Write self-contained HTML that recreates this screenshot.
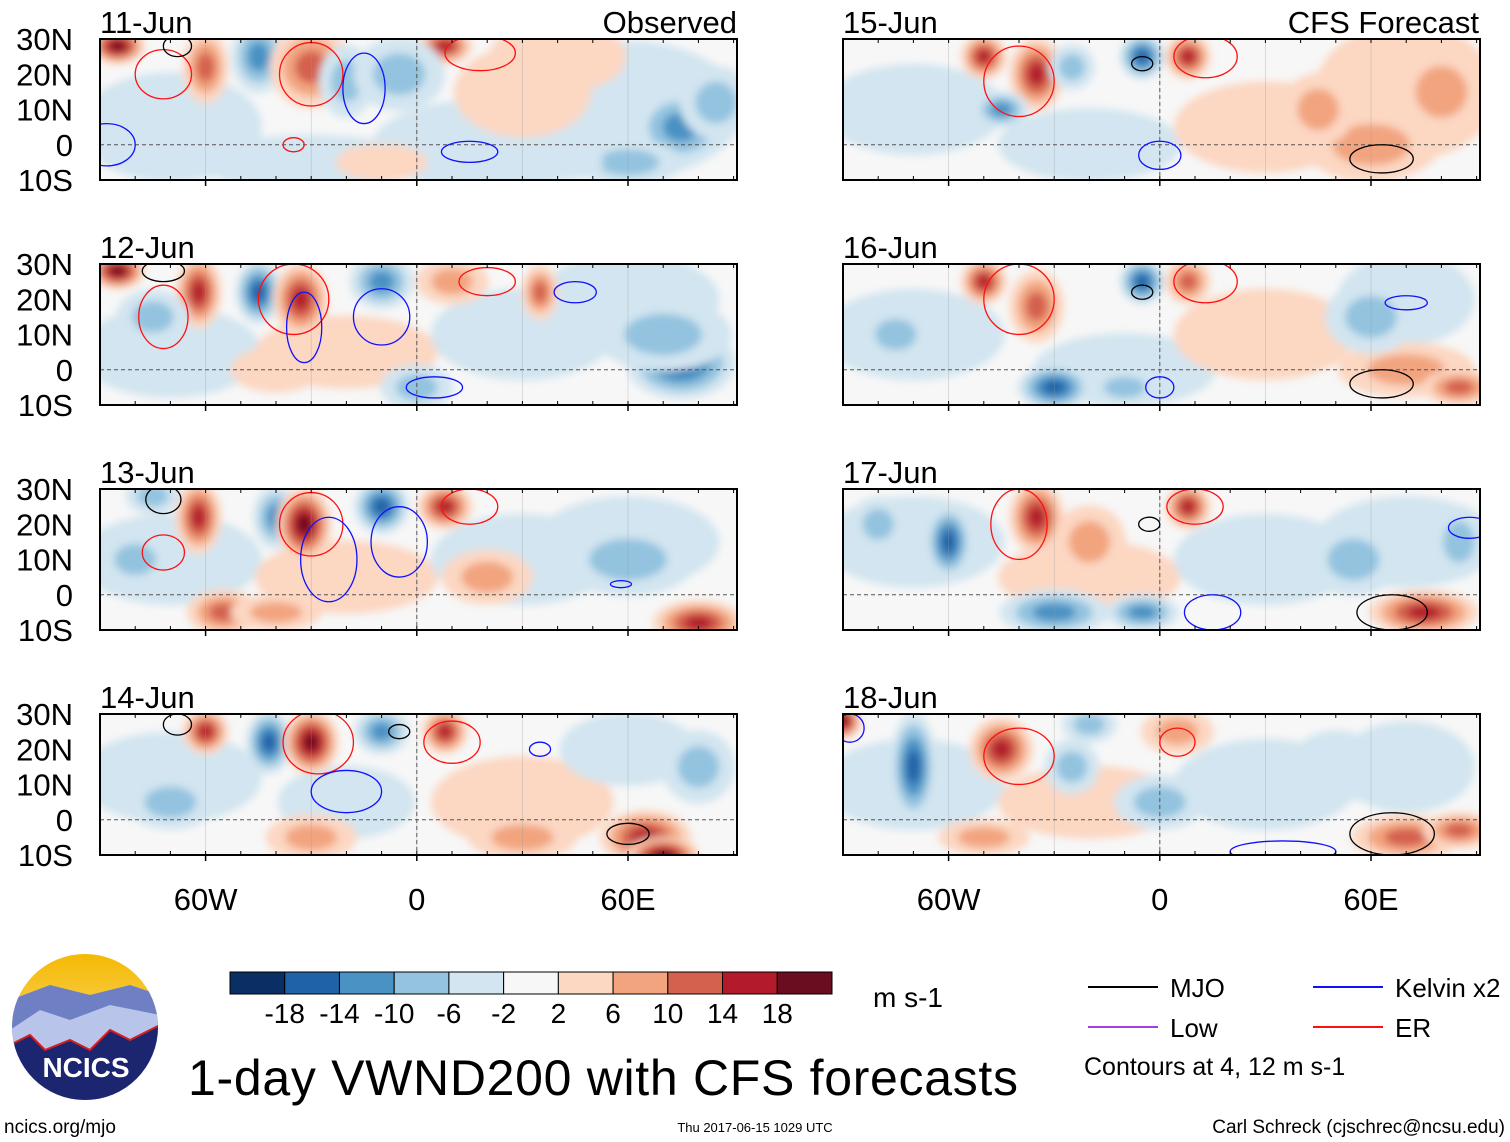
<!DOCTYPE html>
<html><head><meta charset="utf-8">
<style>
html,body{margin:0;padding:0;background:#fff;}
body{width:1510px;height:1142px;position:relative;overflow:hidden;font-family:"Liberation Sans",sans-serif;}
</style></head>
<body>
<svg id="chart" width="1510" height="1142" xmlns="http://www.w3.org/2000/svg" style="position:absolute;left:0;top:0">
<defs>
<filter id="blur" x="-50%" y="-50%" width="200%" height="200%"><feGaussianBlur stdDeviation="4"/></filter>
<linearGradient id="sky" x1="0" y1="0" x2="0" y2="1"><stop offset="0" stop-color="#f5b800"/><stop offset="0.5" stop-color="#f7d25a"/><stop offset="1" stop-color="#c9d7f0"/></linearGradient>
</defs>
</svg>
<script>
const panelDates=["11-Jun","12-Jun","13-Jun","14-Jun","15-Jun","16-Jun","17-Jun","18-Jun"];
const latTicks=["30N","20N","10N","0","10S"];
const latVals=[30,20,10,0,-10];
const lonTicks=["60W","0","60E"];
const lonVals=[-60,0,60];
const cbLabels=["-18","-14","-10","-6","-2","2","6","10","14","18"];
const cbBounds=[-18,-14,-10,-6,-2,2,6,10,14,18];
const cbColors=["#0a2f64","#2062a8","#4a92c4","#93c3df","#d2e5f0","#f7f7f7","#fcd7c2","#f2a47f","#d4604e","#b31a2c","#6a0d20"];
// blobs: [lon, lat, value, rxDeg, ryDeg]
const blobs0=[[-70,5,-4,20,12],[-30,-5,-4,25,6],[20,0,-4,25,10],[60,10,-5,25,15],[40,25,4,15,8],[-85,28,18,6,4],[-60,22,10,5,8],[-45,25,-10,6,8],[-30,22,12,9,9],[-20,18,-6,6,8],[8,28,16,6,4],[-5,20,-6,10,8],[30,15,4,15,10],[75,5,-12,10,8],[85,12,-8,8,8],[60,-5,-6,12,5],[-10,-5,4,10,4],[40,-5,-4,10,4]];
const blobs1=[[-70,5,-4,20,10],[-20,5,4,20,8],[30,10,-4,20,10],[60,20,-4,20,10],[-85,28,18,6,4],[-62,22,14,5,8],[-45,22,-14,5,7],[-33,20,16,6,8],[-10,25,-10,7,6],[10,25,8,8,5],[35,22,10,4,6],[75,2,-14,12,8],[70,10,-8,15,8],[0,-5,-6,8,5],[-40,0,4,10,5],[-75,15,-6,8,6]];
const blobs2=[[-70,10,-4,20,10],[-20,5,4,20,8],[30,10,-4,20,10],[60,15,-4,20,10],[-75,28,-6,6,4],[-62,22,16,5,8],[-40,22,-12,5,7],[-32,20,18,6,8],[-10,25,-14,6,6],[8,25,14,6,5],[-55,-5,10,8,5],[-40,-5,8,10,4],[80,-8,16,10,5],[60,10,-6,15,8],[-80,10,-6,8,6],[20,5,6,10,6]];
const blobs3=[[-70,12,-4,20,10],[-20,5,-4,15,8],[30,5,4,20,10],[60,20,-4,15,8],[-60,25,14,5,5],[-42,22,-14,5,7],[-30,22,18,6,7],[-10,25,-12,6,5],[8,25,16,5,5],[65,-5,16,10,6],[70,-10,18,8,4],[-70,5,-6,10,6],[-30,-5,6,10,5],[30,-5,6,12,5],[80,15,-6,8,8]];
const blobs4=[[-70,10,-4,20,10],[-20,0,-4,20,8],[30,5,4,20,10],[70,15,4,20,15],[-50,25,16,5,5],[-35,20,14,6,8],[-25,22,-8,5,5],[-5,25,-14,5,5],[8,25,14,5,5],[-45,10,-10,6,4],[60,0,8,15,8],[80,15,6,10,10],[45,10,6,8,8],[-75,10,-4,8,6],[-10,0,-4,10,5]];
const blobs5=[[-70,10,-4,20,10],[-10,0,-4,20,8],[30,10,4,20,10],[70,20,-4,15,10],[-50,25,16,5,5],[-35,18,10,6,8],[-5,25,-14,5,5],[8,25,12,5,5],[-30,-5,-14,8,5],[-10,-5,-8,8,4],[70,0,8,15,6],[85,-5,10,8,4],[60,15,-6,10,8],[-75,10,-6,8,6],[20,10,4,10,8]];
const blobs6=[[-70,15,-4,20,10],[-20,5,4,20,8],[30,10,-4,20,10],[70,15,-4,20,10],[-60,15,-14,5,8],[-35,22,16,6,8],[-20,15,6,8,8],[-30,-5,-12,12,5],[-5,-5,-10,8,4],[8,25,14,5,5],[75,-5,14,12,5],[55,10,-6,10,8],[85,15,-6,6,8],[-80,20,-6,6,6]];
const blobs7=[[-70,10,-4,20,10],[-20,5,4,20,8],[30,10,-4,20,10],[70,15,-4,15,10],[-90,28,18,4,4],[-70,15,-16,5,12],[-45,20,16,7,7],[-25,15,-8,6,6],[-20,27,-8,6,4],[5,25,6,8,5],[0,5,-6,10,6],[70,-5,10,12,5],[85,-3,12,8,4],[50,15,-4,10,8],[-50,-5,6,10,4]];
const allBlobs=[blobs0,blobs1,blobs2,blobs3,blobs4,blobs5,blobs6,blobs7];
// contours: [lon, lat, rxDeg, ryDeg, type]  type: 0=MJO,1=Kelvin,2=ER
const cont0=[[-72,20,8,7,2],[-30,20,9,9,2],[-15,16,6,10,1],[-68,28,4,3,0],[18,26,10,5,2],[-88,0,8,6,1],[-35,0,3,2,2],[15,-2,8,3,1]];
const cont1=[[-72,15,7,9,2],[-35,20,10,10,2],[-32,12,5,10,1],[-10,15,8,8,1],[20,25,8,4,2],[-72,28,6,3,0],[5,-5,8,3,1],[45,22,6,3,1]];
const cont2=[[-72,12,6,5,2],[-30,20,9,9,2],[-25,10,8,12,1],[-5,15,8,10,1],[15,25,8,5,2],[-72,27,5,4,0],[58,3,3,1,1]];
const cont3=[[-68,27,4,3,0],[-28,22,10,9,2],[-20,8,10,6,1],[10,22,8,6,2],[60,-4,6,3,0],[-5,25,3,2,0],[35,20,3,2,1]];
const cont4=[[-40,18,10,10,2],[13,25,9,6,2],[-5,23,3,2,0],[0,-3,6,4,1],[63,-4,9,4,0]];
const cont5=[[-40,20,10,10,2],[13,25,9,6,2],[-5,22,3,2,0],[0,-5,4,3,1],[63,-4,9,4,0],[70,19,6,2,1]];
const cont6=[[-40,20,8,10,2],[10,25,8,5,2],[-3,20,3,2,0],[15,-5,8,5,1],[66,-5,10,5,0],[88,19,6,3,1]];
const cont7=[[-40,18,10,8,2],[5,22,5,4,2],[66,-4,12,6,0],[-88,26,4,4,1],[35,-9,15,3,1]];
const allCont=[cont0,cont1,cont2,cont3,cont4,cont5,cont6,cont7];

const svg=document.getElementById('chart');
const NS="http://www.w3.org/2000/svg";
function mk(tag,attrs,parent){const e=document.createElementNS(NS,tag);for(const k in attrs)e.setAttribute(k,attrs[k]);(parent||svg).appendChild(e);return e;}
const PW=637,PH=141;
function lonX(x0,lon){return x0+(lon+90)*3.52;}
function latY(y0,lat){return y0+(30-lat)*3.525;}
function colorFor(v){let i=0;while(i<cbBounds.length&&v>cbBounds[i])i++;return cbColors[i];}
const contColors=["#000","#1010ff","#ff1010"];
const panelX=[100,843],panelY=[39,264,489,714];

for(let p=0;p<8;p++){
  const x0=panelX[p<4?0:1],y0=panelY[p%4];
  const g=mk('g',{});
  
  
  const cp=mk('clipPath',{id:'cp'+p},svg);
  mk('rect',{x:x0,y:y0,width:PW,height:PH},cp);
  const inner=mk('g',{'clip-path':'url(#cp'+p+')'},g);
  mk('rect',{x:x0,y:y0,width:PW,height:PH,fill:'#f7f7f7'},inner);
  const bg=mk('g',{filter:'url(#blur)'},inner);
  allBlobs[p].forEach(b=>{
    const cx=lonX(x0,b[0]),cy=latY(y0,b[1]);
    const steps=[];const s=Math.sign(b[2]);
    for(let v=2*s;Math.abs(v)<=Math.abs(b[2])+0.1;v+=4*s)steps.push(v);
    if(!steps.length)steps.push(b[2]);
    steps.forEach((v,i)=>{
      const f=1.3*(1-i/(steps.length+0.3));
      const e=mk('ellipse',{cx:cx,cy:cy,rx:b[3]*3.52*f,ry:b[4]*3.52*f,fill:colorFor(v+0.5*s)},bg);
      
      
    });
  });
  // faint map lines (stand-in coastlines)
  for(let lo=-60;lo<=60;lo+=30){mk('line',{x1:lonX(x0,lo),x2:lonX(x0,lo),y1:y0,y2:y0+PH,stroke:'#999','stroke-width':0.6,opacity:0.5},inner);}
  mk('line',{x1:x0,x2:x0+PW,y1:latY(y0,0),y2:latY(y0,0),stroke:'#555','stroke-dasharray':'4,3','stroke-width':1},inner);
  mk('line',{x1:lonX(x0,0),x2:lonX(x0,0),y1:y0,y2:y0+PH,stroke:'#555','stroke-dasharray':'4,3','stroke-width':1},inner);
  allCont[p].forEach(c=>{
    const e=mk('ellipse',{cx:lonX(x0,c[0]),cy:latY(y0,c[1]),rx:c[2]*3.52,ry:c[3]*3.52,fill:'none',stroke:contColors[c[4]],'stroke-width':1.3},inner);
    
    
  });
  mk('rect',{x:x0,y:y0,width:PW,height:PH,fill:'none',stroke:'#000','stroke-width':2},g);
  for(let lo=-90;lo<=90;lo+=10){const x=lonX(x0,lo);mk('line',{x1:x,x2:x,y1:y0,y2:y0+4,stroke:'#000'},g);mk('line',{x1:x,x2:x,y1:y0+PH,y2:y0+PH-4,stroke:'#000'},g);}
  lonVals.forEach(lo=>{const x=lonX(x0,lo);mk('line',{x1:x,x2:x,y1:y0+PH,y2:y0+PH+6,stroke:'#000','stroke-width':1.5},g);});
  const t=mk('text',{x:x0,y:y0-6,'font-size':31,fill:'#000'},g);t.textContent=panelDates[p];
  
  
  if(p<4){
    latTicks.forEach((l,i)=>{const tt=mk('text',{x:73,y:latY(y0,latVals[i])+11,'font-size':31,'text-anchor':'end'},g);tt.textContent=l;
      
      });
  }
}
[[737,"Observed"],[1479,"CFS Forecast"]].forEach(a=>{const t=mk('text',{x:a[0],y:33,'font-size':31,'text-anchor':'end'});t.textContent=a[1];
  
  });
[100,843].forEach(x0=>{lonTicks.forEach((l,i)=>{const t=mk('text',{x:lonX(x0,lonVals[i]),y:910,'font-size':31,'text-anchor':'middle'});t.textContent=l;
  
  });});
const cbx=230,cbw=602/11;
cbColors.forEach((c,i)=>{const r=mk('rect',{x:cbx+i*cbw,y:972,width:cbw,height:22,fill:c,stroke:'#000','stroke-width':1});
  
  });
cbLabels.forEach((l,i)=>{const t=mk('text',{x:cbx+(i+1)*cbw,y:1023,'font-size':28,'text-anchor':'middle'});t.textContent=l;
  
  });
function txt(x,y,s,str,anchor,name){const t=mk('text',{x:x,y:y,'font-size':s,'text-anchor':anchor||'start'});t.textContent=str;return t;}
txt(873,1007,28,"m s-1",'start','units-label');
const ti=txt(188,1095,50,"1-day VWND200 with CFS forecasts",'start','chart-title');ti.setAttribute('textLength','830');
txt(4,1133,19,"ncics.org/mjo",'start','source-url');
txt(755,1132,13,"Thu 2017-06-15 1029 UTC",'middle','timestamp');
txt(1505,1133,19,"Carl Schreck (cjschrec@ncsu.edu)",'end','author-credit');
const leg=[[1088,987,"#000","MJO"],[1313,987,"#1010ff","Kelvin x2"],[1088,1027,"#a040e0","Low"],[1313,1027,"#ff1010","ER"]];
leg.forEach(l=>{const g=mk('g',{});
  mk('line',{x1:l[0],x2:l[0]+70,y1:l[1],y2:l[1],stroke:l[2],'stroke-width':2},g);
  const t=mk('text',{x:l[0]+82,y:l[1]+10,'font-size':26},g);t.textContent=l[3];});
txt(1084,1075,25,"Contours at 4, 12 m s-1",'start','contour-note');
const lg=mk('g',{});
const lc=mk('clipPath',{id:'lc'});mk('circle',{cx:85,cy:1027,r:73},lc);
const lin=mk('g',{'clip-path':'url(#lc)'},lg);
mk('rect',{x:10,y:950,width:150,height:160,fill:'url(#sky)'},lin);
mk('path',{d:'M10 1000 L50 985 L90 995 L130 985 L160 995 L160 1110 L10 1110Z',fill:'#6f7fc4'},lin);
mk('path',{d:'M10 1030 L40 1010 L70 1020 L110 1005 L160 1015 L160 1110 L10 1110Z',fill:'#b8c4ea'},lin);
mk('path',{d:'M10 1045 L30 1035 L45 1050 L70 1040 L90 1050 L110 1030 L130 1040 L160 1025 L160 1110 L10 1110Z',fill:'#1c2570',stroke:'#d02020','stroke-width':2},lin);
const lt=mk('text',{x:86,y:1077,'font-size':28,'font-weight':'bold',fill:'#fff','text-anchor':'middle'},lg);lt.textContent="NCICS";
</script>
</body></html>
